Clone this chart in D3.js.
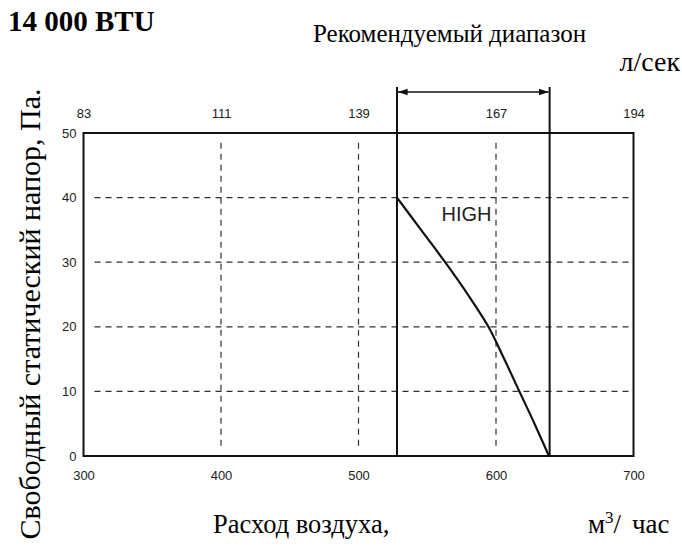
<!DOCTYPE html>
<html>
<head>
<meta charset="utf-8">
<script src="https://cdn.jsdelivr.net/npm/d3@7/dist/d3.min.js"></script>
<style>
  html, body { margin: 0; padding: 0; background: #fff; }
  svg { display: block; }
</style>
</head>
<body>
<div id="chart"></div>
<script>
// Fan curve "HIGH": air flow (m³/h) vs. external static pressure (Pa)
const flowValues     = [528, 545.5, 563, 579.5, 594.5, 606, 617, 628, 638.5];
const pressureValues = [40, 35, 30, 25, 20, 15, 10, 5, 0];

// Recommended operating range (m³/h)
const rangeBounds = [528, 639];

// Axis ticks
const xTicks = [300, 400, 500, 600, 700];
const yTicks = [0, 10, 20, 30, 40, 50];
const topTickLabels = ["83", "111", "139", "167", "194"];
const gridX = [400, 500, 600];
const gridY = [10, 20, 30, 40];

const W = 682, H = 547;
const plot = { left: 83.5, right: 633.5, top: 133, bottom: 456 };

const svg = d3.select("#chart").append("svg")
  .attr("width", W).attr("height", H);

const x = d3.scaleLinear().domain([300, 700]).range([plot.left, plot.right]);
const y = d3.scaleLinear().domain([0, 50]).range([plot.bottom, plot.top]);

const serif = "'Liberation Serif', 'Times New Roman', serif";
const sans = "'Liberation Sans', Arial, sans-serif";

// Dashed grid
svg.append("g").selectAll("line").data(gridY).join("line")
  .attr("x1", x(308)).attr("x2", x(698))
  .attr("y1", d => y(d)).attr("y2", d => y(d))
  .attr("stroke", "#333").attr("stroke-width", 1.2)
  .attr("stroke-dasharray", "6,5");

svg.append("g").selectAll("line").data(gridX).join("line")
  .attr("x1", d => x(d)).attr("x2", d => x(d))
  .attr("y1", y(48.5)).attr("y2", y(1))
  .attr("stroke", "#333").attr("stroke-width", 1.2)
  .attr("stroke-dasharray", "6,5");

// Frame
svg.append("rect")
  .attr("x", plot.left).attr("y", plot.top)
  .attr("width", plot.right - plot.left).attr("height", plot.bottom - plot.top)
  .attr("fill", "none").attr("stroke", "#111").attr("stroke-width", 2);

// Bottom axis (m³/h)
const xAxis = svg.append("g")
  .attr("transform", `translate(0,${plot.bottom})`)
  .call(d3.axisBottom(x).tickValues(xTicks).tickSize(0).tickPadding(15));
xAxis.select(".domain").remove();
xAxis.selectAll("text").attr("font-family", sans).attr("font-size", 13).attr("fill", "#222");

// Top axis (l/s)
const xTop = svg.append("g")
  .attr("transform", `translate(0,${plot.top})`)
  .call(d3.axisTop(x).tickValues(xTicks).tickSize(0).tickPadding(15)
    .tickFormat((d, i) => topTickLabels[i]));
xTop.select(".domain").remove();
xTop.selectAll("text").attr("font-family", sans).attr("font-size", 13).attr("fill", "#222");

// Left axis (Pa)
const yAxis = svg.append("g")
  .attr("transform", `translate(${plot.left},0)`)
  .call(d3.axisLeft(y).tickValues(yTicks).tickSize(0).tickPadding(7));
yAxis.select(".domain").remove();
yAxis.selectAll("text").attr("font-family", sans).attr("font-size", 13).attr("fill", "#222");

// Recommended range: vertical bounds and arrowed bracket
svg.append("defs").append("marker")
  .attr("id", "arrow").attr("viewBox", "0 0 10 10")
  .attr("refX", 10).attr("refY", 5)
  .attr("markerWidth", 7).attr("markerHeight", 6)
  .attr("orient", "auto-start-reverse")
  .append("path").attr("d", "M0,1.5 L10,5 L0,8.5 Z").attr("fill", "#111");

svg.append("g").selectAll("line").data(rangeBounds).join("line")
  .attr("x1", d => x(d)).attr("x2", d => x(d))
  .attr("y1", 87).attr("y2", plot.bottom)
  .attr("stroke", "#111").attr("stroke-width", 2);

svg.append("line")
  .attr("x1", x(rangeBounds[0]) + 1).attr("x2", x(rangeBounds[1]) - 1)
  .attr("y1", 92).attr("y2", 92)
  .attr("stroke", "#111").attr("stroke-width", 1.6)
  .attr("marker-start", "url(#arrow)").attr("marker-end", "url(#arrow)");

// Fan curve
const pts = flowValues.map((f, i) => [f, pressureValues[i]]);
svg.append("path")
  .datum(pts)
  .attr("d", d3.line().x(d => x(d[0])).y(d => y(d[1])).curve(d3.curveCatmullRom.alpha(0.5)))
  .attr("fill", "none").attr("stroke", "#111").attr("stroke-width", 2.2);

svg.append("text")
  .attr("x", x(578.5)).attr("y", y(36.4))
  .attr("text-anchor", "middle")
  .attr("font-family", sans).attr("font-size", 20).attr("fill", "#222")
  .text("HIGH");

// Titles
svg.append("text").attr("x", 8).attr("y", 31)
  .attr("font-family", serif).attr("font-size", 29).attr("font-weight", "bold")
  .text("14 000 BTU");

svg.append("text").attr("x", 313).attr("y", 42)
  .attr("font-family", serif).attr("font-size", 25)
  .text("Рекомендуемый диапазон");

svg.append("text").attr("x", 680).attr("y", 71).attr("text-anchor", "end")
  .attr("font-family", serif).attr("font-size", 28)
  .text("л/сек");

svg.append("text")
  .attr("transform", "translate(40,314) rotate(-90)")
  .attr("text-anchor", "middle")
  .attr("font-family", serif).attr("font-size", 30)
  .text("Свободный статический напор, Па.");

svg.append("text").attr("x", 213).attr("y", 533)
  .attr("font-family", serif).attr("font-size", 26.5)
  .text("Расход воздуха,");

const unit = svg.append("text").attr("x", 588).attr("y", 533)
  .attr("font-family", serif).attr("font-size", 27);
unit.append("tspan").text("м");
unit.append("tspan").attr("font-size", 17).attr("dy", -10).text("3");
unit.append("tspan").attr("dy", 10).text("/");
unit.append("tspan").attr("x", 632).text("час");
</script>
</body>
</html>
